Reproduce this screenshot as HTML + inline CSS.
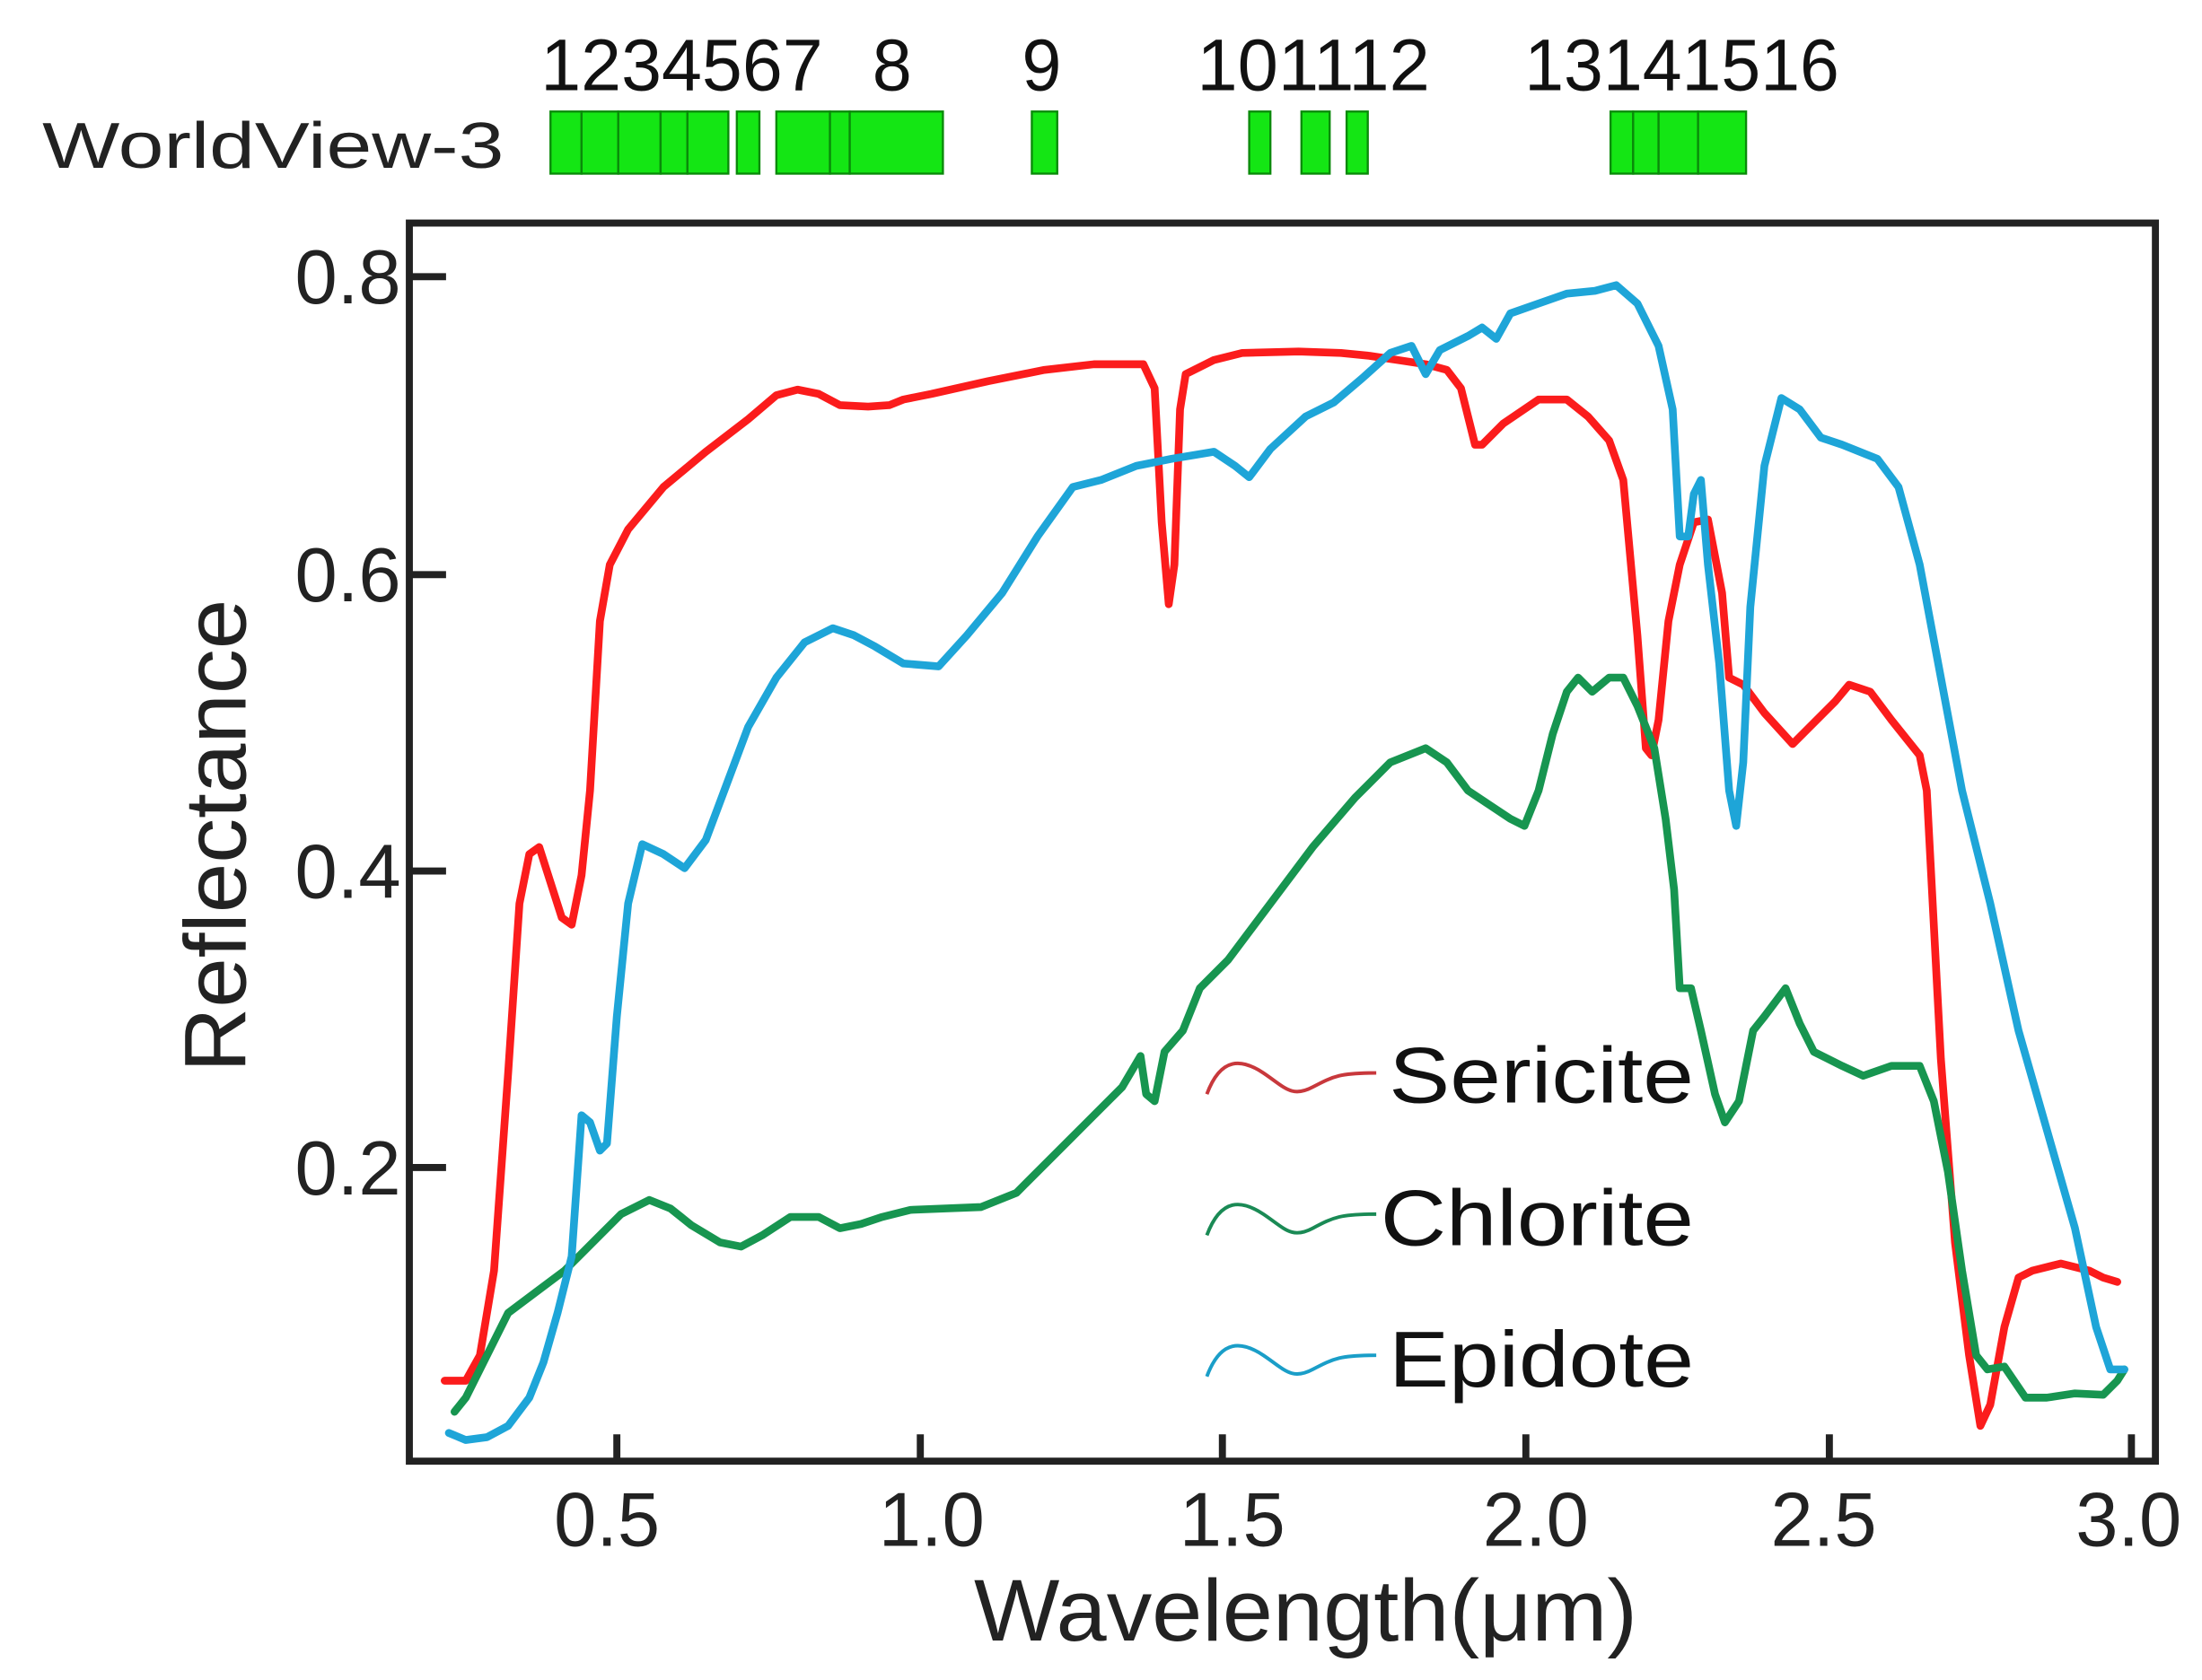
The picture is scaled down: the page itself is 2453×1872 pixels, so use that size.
<!DOCTYPE html>
<html><head><meta charset="utf-8"><style>html,body{margin:0;padding:0;background:#fff}svg{display:block}</style></head>
<body>
<svg width="2453" height="1872" viewBox="0 0 1560 1190" preserveAspectRatio="none" xmlns="http://www.w3.org/2000/svg" font-family="Liberation Sans, sans-serif">
<rect width="1560" height="1190" fill="#fff"/>
<text x="30" y="119" font-size="46" fill="#222" textLength="327" lengthAdjust="spacingAndGlyphs">WorldView-3</text>
<g font-size="52" fill="#111">
<text x="383" y="64" textLength="200" lengthAdjust="spacingAndGlyphs">1234567</text>
<text x="618" y="64" textLength="28" lengthAdjust="spacingAndGlyphs">8</text>
<text x="724" y="64" textLength="28" lengthAdjust="spacingAndGlyphs">9</text>
<text x="848" y="64" textLength="165" lengthAdjust="spacingAndGlyphs">101112</text>
<text x="1080" y="64" textLength="223" lengthAdjust="spacingAndGlyphs">13141516</text>
</g>
<g fill="#14e614" stroke="#0a8a0a" stroke-width="1.5">
<rect x="390" y="79" width="22" height="44"/><rect x="412" y="79" width="26" height="44"/><rect x="438" y="79" width="30" height="44"/><rect x="468" y="79" width="19" height="44"/><rect x="487" y="79" width="29" height="44"/><rect x="522" y="79" width="16" height="44"/><rect x="550" y="79" width="38" height="44"/><rect x="588" y="79" width="14" height="44"/><rect x="602" y="79" width="66" height="44"/><rect x="731" y="79" width="18" height="44"/><rect x="885" y="79" width="15" height="44"/><rect x="922" y="79" width="20" height="44"/><rect x="954" y="79" width="15" height="44"/><rect x="1141" y="79" width="16" height="44"/><rect x="1157" y="79" width="18" height="44"/><rect x="1175" y="79" width="28" height="44"/><rect x="1203" y="79" width="34" height="44"/>
</g>
<rect x="290" y="158" width="1237" height="877" fill="none" stroke="#222" stroke-width="5"/>
<g stroke="#222" stroke-width="5">
<line x1="290" y1="196" x2="316" y2="196"/><line x1="290" y1="407" x2="316" y2="407"/><line x1="290" y1="617" x2="316" y2="617"/><line x1="290" y1="827" x2="316" y2="827"/>
<line x1="437" y1="1035" x2="437" y2="1016"/><line x1="652" y1="1035" x2="652" y2="1016"/><line x1="866" y1="1035" x2="866" y2="1016"/><line x1="1081" y1="1035" x2="1081" y2="1016"/><line x1="1296" y1="1035" x2="1296" y2="1016"/><line x1="1510" y1="1035" x2="1510" y2="1016"/>
</g>
<g font-size="54" fill="#222" text-anchor="end">
<text x="284" y="215">0.8</text><text x="284" y="426">0.6</text><text x="284" y="636">0.4</text><text x="284" y="846">0.2</text>
</g>
<g font-size="54" fill="#222" text-anchor="middle">
<text x="430" y="1095">0.5</text><text x="660" y="1095">1.0</text><text x="873" y="1095">1.5</text><text x="1088" y="1095">2.0</text><text x="1292" y="1095">2.5</text><text x="1508" y="1095">3.0</text>
</g>
<text x="925" y="1162" font-size="62" fill="#222" text-anchor="middle" textLength="470" lengthAdjust="spacingAndGlyphs">Wavelength(μm)</text>
<text transform="translate(174,592) rotate(-90)" font-size="62" fill="#222" text-anchor="middle" textLength="335" lengthAdjust="spacingAndGlyphs">Reflectance</text>
<g fill="none" stroke-width="5.5" stroke-linejoin="round" stroke-linecap="round">
<polyline stroke="#fb1c1c" points="315,978 330,978 340,960 350,900 360,760 368,640 375,605 382,600 390,625 398,650 405,655 412,620 418,560 425,440 432,400 445,375 470,345 500,320 530,297 550,280 565,276 580,279 595,287 615,288 630,287 640,283 660,279 700,270 740,262 775,258 810,258 818,275 823,370 828,428 832,400 836,290 840,265 860,255 880,250 920,249 950,250 970,252 990,255 1010,258 1025,262 1035,275 1045,315 1050,315 1065,300 1090,283 1110,283 1125,295 1140,312 1150,340 1160,450 1166,530 1170,535 1175,510 1182,440 1190,400 1200,370 1210,368 1220,420 1225,480 1235,485 1250,505 1270,527 1285,512 1300,497 1310,485 1325,490 1340,510 1360,535 1365,560 1375,750 1385,880 1395,960 1403,1010 1410,995 1420,940 1430,905 1440,900 1460,895 1480,900 1490,905 1500,908"/>
<polyline stroke="#179550" points="322,1000 330,990 345,960 360,930 380,915 400,900 420,880 440,860 460,850 475,856 490,868 510,880 525,883 540,875 560,862 580,862 595,870 610,867 625,862 645,857 670,856 695,855 720,845 745,820 770,795 795,770 808,748 812,775 818,780 825,745 838,730 850,700 870,680 900,640 930,600 960,565 985,540 1010,530 1025,540 1040,560 1055,570 1070,580 1080,585 1090,560 1100,520 1110,490 1118,480 1128,490 1140,480 1150,480 1160,500 1172,530 1180,580 1186,630 1190,700 1198,700 1205,730 1215,775 1222,795 1232,780 1242,730 1250,720 1265,700 1275,725 1285,745 1305,755 1320,762 1340,755 1360,755 1370,780 1380,830 1390,900 1400,960 1408,970 1420,968 1435,990 1450,990 1470,987 1490,988 1500,978 1505,970"/>
<polyline stroke="#1ea5d8" points="318,1015 330,1020 345,1018 360,1010 375,990 385,965 395,930 405,890 412,790 418,795 425,815 430,810 437,720 445,640 455,598 470,605 485,615 500,595 515,555 530,515 550,480 570,455 590,445 605,450 620,458 640,470 665,472 685,450 710,420 735,380 760,345 780,340 805,330 830,325 860,320 875,330 885,338 900,318 925,295 945,285 965,268 985,250 1000,245 1010,265 1020,248 1040,238 1050,232 1060,240 1070,222 1090,215 1110,208 1130,206 1145,202 1160,215 1175,245 1185,290 1190,380 1196,380 1200,350 1205,340 1210,400 1218,470 1225,560 1230,585 1235,540 1240,430 1250,330 1262,282 1275,290 1290,310 1305,315 1330,325 1345,345 1360,400 1375,480 1390,560 1410,640 1430,730 1450,800 1470,870 1485,940 1495,970 1505,970"/>
</g>
<g fill="none" stroke-width="2.5">
<path stroke="#c8383c" d="M855,775 C865,748 880,750 895,760 S915,778 930,770 S950,760 975,760"/>
<path stroke="#1a8a55" d="M855,875 C865,848 880,850 895,860 S915,878 930,870 S950,860 975,860"/>
<path stroke="#1a9ec8" d="M855,975 C865,948 880,950 895,960 S915,978 930,970 S950,960 975,960"/>
</g>
<g font-size="56" fill="#111">
<text x="984" y="781" textLength="216" lengthAdjust="spacingAndGlyphs">Sericite</text>
<text x="978" y="882" textLength="222" lengthAdjust="spacingAndGlyphs">Chlorite</text>
<text x="984" y="982" textLength="216" lengthAdjust="spacingAndGlyphs">Epidote</text>
</g>
</svg>
</body></html>
